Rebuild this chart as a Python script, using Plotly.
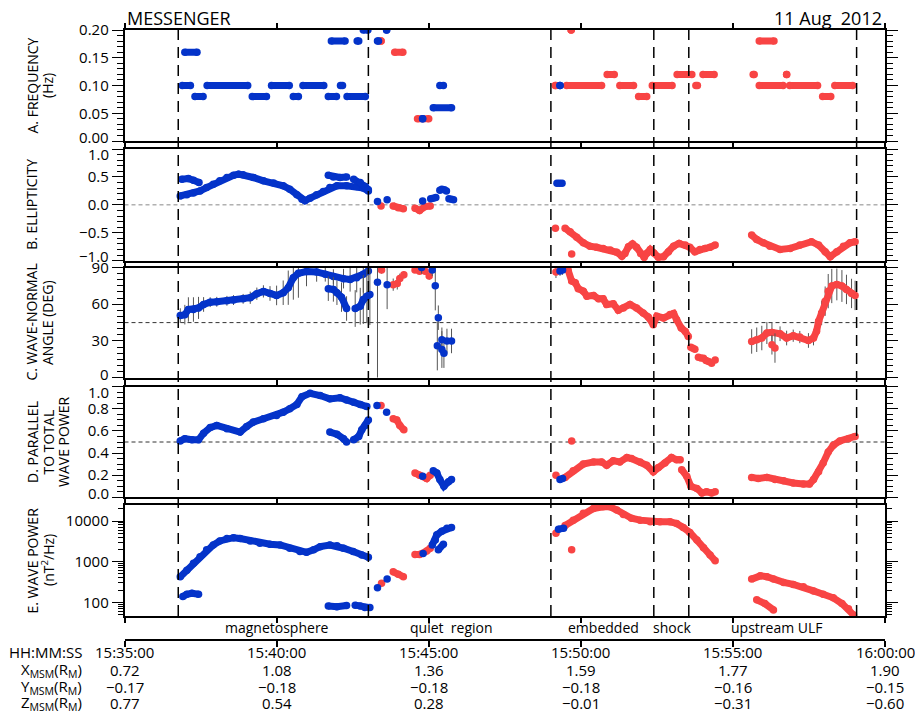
import pandas as pd
import plotly.graph_objects as go

BASE = pd.Timestamp("2012-08-11 15:35:00")
W, H = 915, 715

# ---------------- data (times in seconds after 15:35:00) ----------------
TICK_S = [0, 300, 600, 900, 1200, 1500]
TICK_LABELS = ["15:35:00", "15:40:00", "15:45:00", "15:50:00", "15:55:00", "16:00:00"]
X_MSM = ["0.72", "1.08", "1.36", "1.59", "1.77", "1.90"]
Y_MSM = ["\u22120.17", "\u22120.18", "\u22120.18", "\u22120.18", "\u22120.16", "\u22120.15"]
Z_MSM = ["0.77", "0.54", "0.28", "\u22120.01", "\u22120.31", "\u22120.60"]
BOUNDARIES_S = [106, 481, 841, 1044, 1113, 1444]
REGIONS = [("magnetosphere", 301), ("quiet  region", 645), ("embedded", 944),
           ("shock", 1080), ("upstream ULF", 1286)]

# Panel A: frequency runs (t_start, t_end, Hz)
A_BLUE_RUNS = [(114, 130, 0.10), (119, 143, 0.16), (139, 155, 0.08), (163, 243, 0.10),
               (252, 280, 0.08), (290, 325, 0.10), (333, 343, 0.08), (352, 393, 0.10),
               (402, 418, 0.08), (426, 430, 0.10), (408, 435, 0.18), (459, 462, 0.18),
               (439, 475, 0.08), (471, 480, 0.20), (499, 501, 0.18), (517, 517, 0.20),
               (588, 588, 0.04), (622, 629, 0.10), (609, 645, 0.06), (859, 859, 0.10)]
A_RED_RUNS = [(506, 506, 0.18), (533, 549, 0.16), (578, 600, 0.04), (850, 850, 0.10),
              (881, 881, 0.20), (872, 941, 0.10), (952, 966, 0.12), (977, 1004, 0.10),
              (1014, 1030, 0.08), (1041, 1080, 0.10), (1090, 1119, 0.12), (1127, 1130, 0.10),
              (1141, 1163, 0.12), (1240, 1242, 0.12), (1252, 1281, 0.18), (1252, 1299, 0.10),
              (1306, 1306, 0.12), (1312, 1367, 0.10), (1377, 1393, 0.08), (1401, 1436, 0.10)]

# Panel B: ellipticity
B_BLUE_MAIN = [(110, 0.16), (123, 0.18), (136, 0.21), (149, 0.25), (162, 0.31), (175, 0.37),
               (188, 0.43), (202, 0.49), (215, 0.53), (225, 0.55), (234, 0.54), (254, 0.49),
               (274, 0.43), (294, 0.39), (313, 0.34), (326, 0.28), (340, 0.18), (350, 0.10),
               (356, 0.075), (366, 0.12), (379, 0.18), (392, 0.24), (405, 0.31), (419, 0.34),
               (438, 0.34), (458, 0.33), (471, 0.30), (481, 0.25)]
B_BLUE_UP1 = [(113, 0.46), (126, 0.47), (136, 0.44), (147, 0.40)]
B_BLUE_UP2 = [(402, 0.53), (412, 0.50), (425, 0.49), (438, 0.50)]
B_BLUE_UP3 = [(452, 0.46), (465, 0.40), (475, 0.33), (481, 0.27)]
B_BLUE_DOTS = [(499, 0.06), (518, 0.09), (588, 0.07), (604, 0.11), (609, 0.12), (614, 0.13),
               (622, 0.26), (626, 0.28), (631, 0.27), (635, 0.25), (640, 0.11), (645, 0.10),
               (649, 0.09), (853, 0.385), (858, 0.385), (863, 0.385)]
B_RED_Q1 = [(530, -0.02), (540, -0.05), (550, -0.07)]
B_RED_Q2 = [(573, -0.06), (582, -0.10), (593, -0.03), (603, -0.02)]
B_RED_DOTS = [(506, -0.02), (850, -0.42), (882, -0.88)]
B_RED_EMB = [(869, -0.42), (879, -0.48), (892, -0.58), (905, -0.68), (918, -0.74), (931, -0.76),
             (944, -0.78), (958, -0.81), (971, -0.85), (981, -0.92), (987, -0.87), (994, -0.75),
             (1002, -0.70), (1010, -0.76), (1018, -0.87), (1025, -0.94), (1031, -0.86),
             (1037, -0.80), (1044, -0.86), (1053, -0.94), (1063, -0.93), (1073, -0.84),
             (1083, -0.74), (1094, -0.69), (1106, -0.72), (1115, -0.76), (1125, -0.84),
             (1135, -0.80), (1145, -0.78), (1155, -0.76), (1165, -0.72)]
B_RED_UP = [(1237, -0.54), (1247, -0.62), (1260, -0.68), (1273, -0.74), (1293, -0.80),
            (1313, -0.78), (1332, -0.72), (1355, -0.66), (1369, -0.72), (1382, -0.84),
            (1392, -0.93), (1405, -0.84), (1418, -0.74), (1431, -0.68), (1441, -0.66)]

# Panel C: wave-normal angle (t, deg, error)
C_BLUE_MAIN = [(110, 50.7, 6), (119, 51.5, 8), (126, 55.7, 10), (136, 55.7, 10), (146, 57, 9),
               (156, 59.8, 6), (169, 61.7, 4), (182, 62, 4), (202, 62.8, 4), (215, 63.4, 4),
               (234, 64.4, 4), (248, 65.3, 5), (261, 68.6, 5), (274, 70.5, 5), (287, 68.8, 6),
               (300, 67.2, 8), (313, 69.4, 10), (323, 73.5, 14), (333, 81.7, 18), (343, 85.3, 20),
               (359, 86.7, 12), (379, 86.4, 8), (396, 84.5, 6), (412, 82.6, 6), (432, 80.9, 8),
               (445, 80.3, 10), (458, 81.7, 12), (471, 84.5, 15), (481, 87.2, 18)]
C_BLUE_LOW1 = [(402, 72.7, 10), (412, 72.1, 10), (419, 69.4, 10), (428, 65.8, 12), (438, 56.5, 10)]
C_BLUE_LOW2 = [(455, 56.5, 15), (465, 58.4, 15), (471, 63.9, 20), (478, 66.6, 22), (484, 68, 25)]
C_BLUE_DOTS = [(499, 78, 78), (518, 76, 20), (586, 90, 5), (607, 88, 5), (613, 75, 20),
               (617, 26, 20), (619, 49, 10), (626, 23, 15), (626, 31, 10), (630, 20, 12),
               (636, 30, 10), (645, 30, 10), (859, 87.2, 4), (864, 88, 4)]
C_RED_DOTS = [(507, 88, 3), (530, 76, 5), (538, 77, 5), (543, 81, 4), (551, 84, 3),
              (573, 88, 2), (582, 87, 2), (593, 87, 2), (601, 83, 3), (851, 86.4, 5),
              (1277, 26.9, 8), (1283, 24.2, 12)]
C_RED_EMB = [(870, 88.5, 3), (875, 87.8, 3), (882, 79, 3), (889, 77.6, 2), (895, 72.7, 2),
             (905, 70.7, 2), (912, 66.6, 2), (925, 67.2, 2), (935, 64.4, 2), (944, 64.4, 2),
             (951, 59.8, 2), (964, 60.3, 2), (974, 55.1, 2), (984, 57, 2), (997, 59.8, 2),
             (1010, 57, 2), (1023, 52.9, 2), (1033, 49.6, 2), (1043, 43.3, 2), (1050, 50.2, 2),
             (1063, 48.8, 2), (1076, 51.6, 2), (1083, 52.4, 2), (1089, 47.4, 2), (1098, 40.6, 2),
             (1106, 37.8, 2), (1112, 33.7, 2)]
C_RED_SHOCK = [(1117, 24.9, 2), (1121, 24, 2), (1125, 23.3, 2), (1132, 16.7, 2), (1137, 16, 2),
               (1142, 15.9, 2), (1147, 14, 2), (1152, 13.2, 2), (1158, 11.8, 2), (1165, 14.5, 2)]
C_RED_UP = [(1237, 29.6, 10), (1247, 31, 10), (1257, 32.4, 10), (1267, 36.5, 9), (1277, 37, 8),
            (1293, 35.9, 6), (1306, 32.4, 6), (1319, 34.3, 5), (1332, 33.2, 5), (1349, 30.4, 6),
            (1359, 32.4, 6), (1365, 37.9, 6), (1369, 46.1, 8), (1375, 52.9, 10), (1382, 62.5, 12),
            (1388, 70.7, 14), (1395, 74.9, 14), (1405, 76.2, 13), (1415, 74.9, 13),
            (1424, 72.1, 12), (1434, 68.8, 12), (1441, 67.2, 12)]

# Panel D: parallel to total wave power
D_BLUE_MAIN = [(110, 0.51), (119, 0.53), (133, 0.52), (146, 0.52), (156, 0.58), (169, 0.63),
               (182, 0.65), (202, 0.62), (228, 0.59), (241, 0.64), (254, 0.68), (274, 0.71),
               (300, 0.74), (313, 0.77), (326, 0.80), (340, 0.84), (350, 0.91), (366, 0.94),
               (386, 0.92), (405, 0.89), (425, 0.90), (438, 0.88), (452, 0.86), (465, 0.84),
               (478, 0.82)]
D_BLUE_LOW1 = [(405, 0.59), (419, 0.57), (432, 0.53), (438, 0.50)]
D_BLUE_LOW2 = [(452, 0.52), (462, 0.55), (468, 0.61), (475, 0.65), (481, 0.70)]
D_BLUE_Q = [(609, 0.24), (616, 0.22), (622, 0.16), (630, 0.10), (639, 0.14), (645, 0.16)]
D_BLUE_DOTS = [(498, 0.83), (517, 0.77), (588, 0.19), (859, 0.16), (864, 0.17)]
D_RED_Q1 = [(530, 0.71), (537, 0.70), (543, 0.65), (551, 0.61)]
D_RED_Q2 = [(573, 0.22), (582, 0.20), (596, 0.17), (603, 0.20)]
D_RED_DOTS = [(506, 0.83), (851, 0.20), (882, 0.51)]
D_RED_EMB1 = [(869, 0.18), (885, 0.24), (905, 0.30), (925, 0.32), (941, 0.32), (951, 0.29),
              (964, 0.33), (977, 0.32), (991, 0.36), (1000, 0.35), (1017, 0.32), (1030, 0.29),
              (1043, 0.23), (1053, 0.27), (1066, 0.31), (1079, 0.36), (1089, 0.34), (1096, 0.34)]
D_RED_EMB2 = [(1099, 0.25), (1109, 0.19), (1117, 0.10), (1129, 0.08), (1139, 0.04),
              (1148, 0.05), (1158, 0.04), (1165, 0.05)]
D_RED_UP = [(1237, 0.18), (1250, 0.17), (1267, 0.18), (1283, 0.16), (1300, 0.15), (1319, 0.13),
            (1339, 0.12), (1351, 0.12), (1359, 0.16), (1369, 0.23), (1378, 0.31), (1388, 0.41),
            (1398, 0.47), (1411, 0.51), (1428, 0.53), (1441, 0.55)]

# Panel E: wave power (nT^2/Hz)
E_BLUE_MAIN = [(110, 427), (123, 617), (136, 912), (149, 1318), (162, 1950), (175, 2570),
               (188, 3240), (202, 3720), (215, 3890), (228, 3720), (248, 3240), (267, 2820),
               (287, 2690), (307, 2570), (326, 2140), (346, 1780), (359, 1700), (373, 1950),
               (386, 2340), (405, 2570), (419, 2450), (432, 2140), (451, 1780), (468, 1450),
               (481, 1290)]
E_BLUE_LOW1 = [(115, 138), (123, 158), (133, 166), (146, 158)]
E_BLUE_LOW2 = [(402, 81), (419, 78), (438, 83)]
E_BLUE_LOW3 = [(455, 85), (465, 81), (474, 74), (484, 74)]
E_BLUE_Q1 = [(607, 2570), (613, 3390), (616, 4570), (626, 5620), (636, 6610), (645, 6920)]
E_BLUE_Q2 = [(619, 1950), (629, 2690)]
E_BLUE_EMB = [(856, 6310), (866, 6610)]
E_BLUE_DOTS = [(499, 229), (518, 372), (589, 1580)]
E_RED_Q1 = [(530, 563), (540, 490), (550, 427)]
E_RED_Q2 = [(573, 1510), (582, 1510), (596, 1820), (603, 2140)]
E_RED_DOTS = [(507, 295), (851, 5010), (882, 1950)]
E_RED_EMB = [(869, 7760), (885, 10500), (905, 15500), (925, 20400), (944, 22400), (958, 22400),
             (971, 18600), (984, 14500), (1000, 11700), (1017, 10500), (1037, 9550),
             (1056, 9550), (1076, 9550), (1089, 8710), (1102, 6920), (1115, 5250),
             (1129, 3390), (1142, 2190), (1155, 1450), (1165, 1050)]
E_RED_UP = [(1237, 372), (1254, 447), (1267, 427), (1280, 372), (1300, 309), (1319, 275),
            (1339, 240), (1359, 191), (1378, 158), (1398, 129), (1415, 93), (1428, 69),
            (1438, 49)]
E_RED_UP_LOW = [(1247, 115), (1263, 93), (1280, 65)]

# ---------------- styling ----------------
BLUE = "#0433c9"
RED = "#f84444"
ERRC = "#555555"
MS = 7.5
LW = 7.0
FONT = "Open Sans"


def ts(s):
    return (BASE + pd.Timedelta(seconds=s)).strftime("%Y-%m-%d %H:%M:%S")


def px_y(y):
    return 1 - y / H


XD = [124.5 / W, 885 / W]
PANELS = {1: (30, 141), 2: (149, 260.7), 3: (267.5, 377.7), 4: (386.7, 497.3), 5: (505, 616)}

fig = go.Figure()


def axn(p):
    return ("x" if p == 1 else f"x{p}"), ("y" if p == 1 else f"y{p}")


def add_pts(p, pts, color, connect=True, err=False):
    xa, ya = axn(p)
    mode = "lines+markers" if (connect and len(pts) > 1) else "markers"
    kw = dict(x=[ts(q[0]) for q in pts], y=[q[1] for q in pts], mode=mode, xaxis=xa, yaxis=ya,
              showlegend=False, hoverinfo="skip",
              marker=dict(color=color, size=MS, line=dict(width=0)),
              line=dict(color=color, width=LW))
    if err:
        kw["error_y"] = dict(type="data", array=[q[2] for q in pts], color=ERRC,
                             thickness=1, width=0)
    fig.add_trace(go.Scatter(**kw))


def add_runs(runs, color):
    xs, ys = [], []
    for t0, t1, v in runs:
        xs += [ts(t0), ts(t1), None]
        ys += [v, v, None]
    fig.add_trace(go.Scatter(x=xs, y=ys, mode="lines+markers", xaxis="x", yaxis="y",
                             showlegend=False, hoverinfo="skip",
                             marker=dict(color=color, size=MS, line=dict(width=0)),
                             line=dict(color=color, width=LW)))


# Panel A
add_runs(A_RED_RUNS, RED)
add_runs(A_BLUE_RUNS, BLUE)
# Panel B
for seg in (B_RED_Q1, B_RED_Q2, B_RED_EMB, B_RED_UP):
    add_pts(2, seg, RED)
add_pts(2, B_RED_DOTS, RED, connect=False)
for seg in (B_BLUE_MAIN, B_BLUE_UP1, B_BLUE_UP2, B_BLUE_UP3):
    add_pts(2, seg, BLUE)
add_pts(2, B_BLUE_DOTS, BLUE, connect=False)
# Panel C
add_pts(3, C_RED_EMB, RED, err=True)
add_pts(3, C_RED_SHOCK, RED, connect=False, err=True)
add_pts(3, C_RED_UP, RED, err=True)
add_pts(3, C_RED_DOTS, RED, connect=False, err=True)
for seg in (C_BLUE_MAIN, C_BLUE_LOW1, C_BLUE_LOW2):
    add_pts(3, seg, BLUE, err=True)
add_pts(3, C_BLUE_DOTS, BLUE, connect=False, err=True)
# Panel D
for seg in (D_RED_Q1, D_RED_Q2, D_RED_EMB1, D_RED_EMB2, D_RED_UP):
    add_pts(4, seg, RED)
add_pts(4, D_RED_DOTS, RED, connect=False)
for seg in (D_BLUE_MAIN, D_BLUE_LOW1, D_BLUE_LOW2, D_BLUE_Q):
    add_pts(4, seg, BLUE)
add_pts(4, D_BLUE_DOTS, BLUE, connect=False)
# Panel E
for seg in (E_RED_Q1, E_RED_Q2, E_RED_EMB, E_RED_UP, E_RED_UP_LOW):
    add_pts(5, seg, RED)
add_pts(5, E_RED_DOTS, RED, connect=False)
for seg in (E_BLUE_MAIN, E_BLUE_LOW1, E_BLUE_LOW2, E_BLUE_LOW3, E_BLUE_Q1, E_BLUE_Q2, E_BLUE_EMB):
    add_pts(5, seg, BLUE)
add_pts(5, E_BLUE_DOTS, BLUE, connect=False)

# dummy trace for bottom time axis
fig.add_trace(go.Scatter(x=[ts(0)], y=[0.5], xaxis="x6", yaxis="y6", mode="markers",
                         marker=dict(opacity=0), showlegend=False, hoverinfo="skip"))

TICKFONT = dict(family=FONT, size=15, color="black")
layout = dict(template="none", width=W, height=H, margin=dict(l=0, r=0, t=0, b=0, pad=0),
              paper_bgcolor="white", plot_bgcolor="white",
              font=dict(family=FONT, size=15, color="black"), showlegend=False)

xcommon = dict(range=[ts(0), ts(1500)], domain=XD, showline=True, linecolor="black",
               linewidth=1.5, mirror="ticks", ticks="outside", ticklen=5, tickwidth=1.5,
               tickcolor="black", tickmode="array", tickvals=[ts(s) for s in TICK_S],
               showticklabels=False, showgrid=False, zeroline=False, automargin=False)
ycommon = dict(showline=True, linecolor="black", linewidth=1.5, mirror="ticks",
               ticks="outside", ticklen=11, tickwidth=1.3, tickcolor="black",
               showgrid=False, zeroline=False, tickfont=TICKFONT, tickmode="array",
               automargin=False)
minor = dict(ticks="outside", ticklen=6, tickwidth=1, tickcolor="black", showgrid=False)

for p in range(1, 6):
    xa, ya = axn(p)
    top, bot = PANELS[p]
    layout[xa.replace("x", "xaxis")] = dict(xcommon, anchor=ya)
    layout[ya.replace("y", "yaxis")] = dict(ycommon, anchor=xa, domain=[px_y(bot), px_y(top)])

layout["yaxis"].update(range=[0, 0.2], tickvals=[0, 0.05, 0.10, 0.15, 0.20],
                       ticktext=["", "0.05", "0.10", "0.15", "0.20"],
                       minor=dict(minor, tickmode="linear", tick0=0, dtick=0.01))
layout["yaxis2"].update(range=[-1, 1], tickvals=[-1, -0.5, 0, 0.5, 1],
                        ticktext=["", "\u22120.5", "0.0", "0.5", ""],
                        minor=dict(minor, tickmode="linear", tick0=0, dtick=0.1))
layout["yaxis3"].update(range=[0, 90], tickvals=[0, 30, 60, 90], ticktext=["", "30", "60", "90"],
                        minor=dict(minor, tickmode="linear", tick0=0, dtick=5))
layout["yaxis4"].update(range=[0, 1], tickvals=[0, 0.2, 0.4, 0.6, 0.8, 1.0],
                        ticktext=["", "0.2", "0.4", "0.6", "0.8", ""],
                        minor=dict(minor, tickmode="linear", tick0=0, dtick=0.05))
E_MINOR = [m * 10 ** k for k in (1, 2, 3, 4) for m in range(2, 10) if 46 <= m * 10 ** k <= 24800]
layout["yaxis5"].update(type="log", range=[1.663, 4.394], tickvals=[100, 1000, 10000],
                        ticktext=["100", "1000", "10000"],
                        minor=dict(minor, tickmode="array", tickvals=E_MINOR, ticklen=5))

layout["yaxis6"] = dict(domain=[px_y(639), px_y(638)], range=[0, 1], visible=False, anchor="x6",
                        automargin=False)
layout["xaxis6"] = dict(range=[ts(0), ts(1500)], domain=XD, anchor="y6", showline=True,
                        linecolor="black", linewidth=1.5, ticks="outside", ticklen=6,
                        tickwidth=1.5, tickcolor="black", tickmode="array",
                        tickvals=[ts(s) for s in TICK_S], showticklabels=False,
                        showgrid=False, zeroline=False, automargin=False)

shapes = []
for s in BOUNDARIES_S:
    shapes.append(dict(type="line", xref="x", yref="paper", x0=ts(s), x1=ts(s),
                       y0=px_y(616), y1=px_y(30),
                       line=dict(color="black", width=1.5, dash="11px,7px")))
for p, yv, col in ((2, 0, "#888888"), (3, 45, "#333333"), (4, 0.5, "#333333")):
    shapes.append(dict(type="line", xref=f"x{p} domain", yref=f"y{p}", x0=0, x1=1, y0=yv, y1=yv,
                       line=dict(color=col, width=1, dash="4px,3px"), layer="below"))
layout["shapes"] = shapes

ann = []
ann.append(dict(text="MESSENGER", xref="paper", yref="paper", x=125 / W, y=px_y(17.5),
                xanchor="left", yanchor="middle", showarrow=False, font=dict(size=18)))
ann.append(dict(text="11 Aug  2012", xref="paper", yref="paper", x=884 / W, y=px_y(17.5),
                xanchor="right", yanchor="middle", showarrow=False, font=dict(size=18)))
TITLES = {1: ["A. FREQUENCY", "(Hz)"], 2: ["B. ELLIPTICITY"],
          3: ["C. WAVE-NORMAL", "ANGLE (DEG)"],
          4: ["D. PARALLEL", "TO TOTAL", "WAVE POWER"],
          5: ["E. WAVE POWER", "(nT<sup>2</sup>/Hz)"]}
for p, lines in TITLES.items():
    top, bot = PANELS[p]
    for i, txt in enumerate(lines):
        ann.append(dict(text=txt, xref="paper", yref="paper", x=(32 + 15.5 * i) / W,
                        y=px_y((top + bot) / 2), xanchor="center", yanchor="middle",
                        textangle=-90, showarrow=False, font=dict(size=14)))
EDGE = [("y", 0, "0.00", 4.5), ("y2", 1, "1.0", -5), ("y2", -1, "\u22121.0", 4.7),
        ("y3", 0, "0", 3.7), ("y4", 1, "1.0", -5.6), ("y4", 0, "0.0", 4)]
for ya, v, txt, sh in EDGE:
    ann.append(dict(text=txt, xref="paper", yref=ya, x=XD[0], y=v, xanchor="right",
                    yanchor="middle", xshift=-14, yshift=sh, showarrow=False, font=TICKFONT))
for name, s in REGIONS:
    ann.append(dict(text=name.replace("  ", "&nbsp; "), xref="x5", yref="paper", x=ts(s),
                    y=px_y(627), xanchor="center", yanchor="middle", showarrow=False,
                    font=dict(size=14)))
ROWLAB = [("HH:MM:SS", 652), ("X<sub>MSM</sub>(R<sub>M</sub>)", 670),
          ("Y<sub>MSM</sub>(R<sub>M</sub>)", 686.5), ("Z<sub>MSM</sub>(R<sub>M</sub>)", 703)]
for txt, yy in ROWLAB:
    ann.append(dict(text=txt, xref="paper", yref="paper", x=84 / W, y=px_y(yy), xanchor="right",
                    yanchor="middle", showarrow=False, font=dict(size=15)))
for vals, yy in ((TICK_LABELS, 652), (X_MSM, 670), (Y_MSM, 686.5), (Z_MSM, 703)):
    for s, v in zip(TICK_S, vals):
        ann.append(dict(text=v, xref="x6", yref="paper", x=ts(s), y=px_y(yy), xanchor="center",
                        yanchor="middle", showarrow=False, font=dict(size=15)))
layout["annotations"] = ann

fig.update_layout(**layout)
fig.write_html("out.html")
